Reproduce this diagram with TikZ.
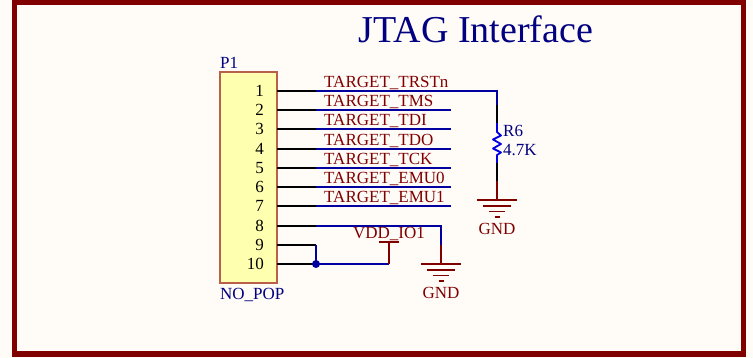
\documentclass[tikz,border=0pt]{standalone}
\usepackage{fontspec}
\setmainfont{Liberation Serif}
\usetikzlibrary{arrows}
\definecolor{sheet}{HTML}{FFFCF8}
\definecolor{frame}{HTML}{800000}
\definecolor{titleblue}{HTML}{000080}
\definecolor{netblue}{HTML}{0000A0}
\definecolor{partblue}{HTML}{0000E0}
\definecolor{pinred}{HTML}{800000}
\definecolor{boxfill}{HTML}{FFFFB0}
\definecolor{boxline}{HTML}{B8604A}
\tikzset{
	txt/.style={inner sep=0pt,font=\fontsize{17}{17}\selectfont},
	netlabel/.style={txt,text=pinred,anchor=base west},
	partlabel/.style={txt,text=titleblue,anchor=base west},
	pinnum/.style={txt,text=black,anchor=base east},
	pinline/.style={black,line width=1.8pt},
	netline/.style={netblue,line width=1.8pt},
	redline/.style={pinred,line width=1.8pt},
	partline/.style={partblue,line width=1.8pt},
	gnd/.pic={
		\foreach \dx/\dy in {20/0,14/6,8/11.5,2.5/17} {
			\draw[redline] (-\dx,\dy) -- (\dx,\dy);
		}
		\node[txt,text=pinred,anchor=base] (lab) at (0,35) {GND};
	}
}

\begin{document}
\begin{tikzpicture}[x=1pt,y=-1pt]
		\useasboundingbox (0,0) rectangle (753,358);
		\fill[sheet] (0,0) rectangle (753,358);
		\draw[frame,line width=5.5pt] (14.5,2.5) rectangle (743.5,354);
		\node[inner sep=0pt,text=titleblue,font=\fontsize{38}{38}\selectfont,anchor=base] (title) at (476,43) {JTAG Interface};
		% header
		\node[draw=boxline,fill=boxfill,line width=1.3pt,inner sep=0pt,minimum width=57pt,minimum height=211pt] (P1) at (248.5,177.5) {};
		\node[partlabel] (refdes) at (220,68.5) {P1};
		\node[partlabel] (value) at (220,299.5) {NO\_POP};
		% pins
		\foreach \n/\y in {1/91,2/110,3/129,4/149,5/168,6/187,7/206,8/226,9/245,10/264} {
			\coordinate (p\n) at (277,\y);
			\coordinate (w\n) at (316,\y);
			\coordinate (e\n) at (451,\y);
			\node[pinnum] (num\n) at (264,\y+6) {\n};
			\draw[pinline] (p\n) -- (w\n);
		}
		% nets
		\foreach \n/\name in {1/TRSTn,2/TMS,3/TDI,4/TDO,5/TCK,6/EMU0,7/EMU1} {
			\node[netlabel] (net\n) at (324,{90.7+(\n-1)*19.25-3.2}) {TARGET\_\name};
		}
		\foreach \n in {2,...,7} {
			\draw[netline] (w\n) -- (e\n);
		}
		% R6
		\coordinate (r0) at (497,91);
		\coordinate (r1) at (497,105);
		\coordinate (r2) at (497,123);
		\coordinate (r3) at (497,132);
		\coordinate (r4) at (497,155);
		\coordinate (r5) at (497,163);
		\coordinate (r6) at (497,181);
		\coordinate (r7) at (497,200);
		\draw[netline] (w1) -- (r0) -- (r1);
		\draw[pinline] (r1) -- (r2);
		\draw[partline,line join=round] (r2) -- (r3) -- (501,135.5) -- (493,139.5) -- (501,144) -- (493,148.5) -- (501,152.5) -- (r4) -- (r5);
		\draw[pinline] (r5) -- (r6);
		\draw[redline] (r6) -- (r7);
		\pic (gndA) at (r7) {gnd};
		\node[partlabel] (r6ref) at (503,137) {R6};
		\node[partlabel] (r6val) at (503,155.5) {4.7K};
		% pin 8 to ground
		\coordinate (g0) at (441,226);
		\coordinate (g1) at (441,245);
		\coordinate (g2) at (441,264);
		\draw[netline] (w8) -- (g0) -- (g1);
		\draw[redline] (g1) -- (g2);
		\pic (gndB) at (g2) {gnd};
		% pins 9 and 10
		\coordinate (v0) at (389,264);
		\coordinate (v1) at (389,242);
		\draw[netline] (w9) -- (w10) -- (v0);
		\draw[redline] (v0) -- (v1);
		\draw[redline] (379,242) -- (399,242);
		\fill[netblue] (w10) circle [radius=4];
		\node[txt,text=pinred,anchor=base] (vdd) at (389,238.5) {VDD\_IO1};
		\end{tikzpicture}
\end{document}
